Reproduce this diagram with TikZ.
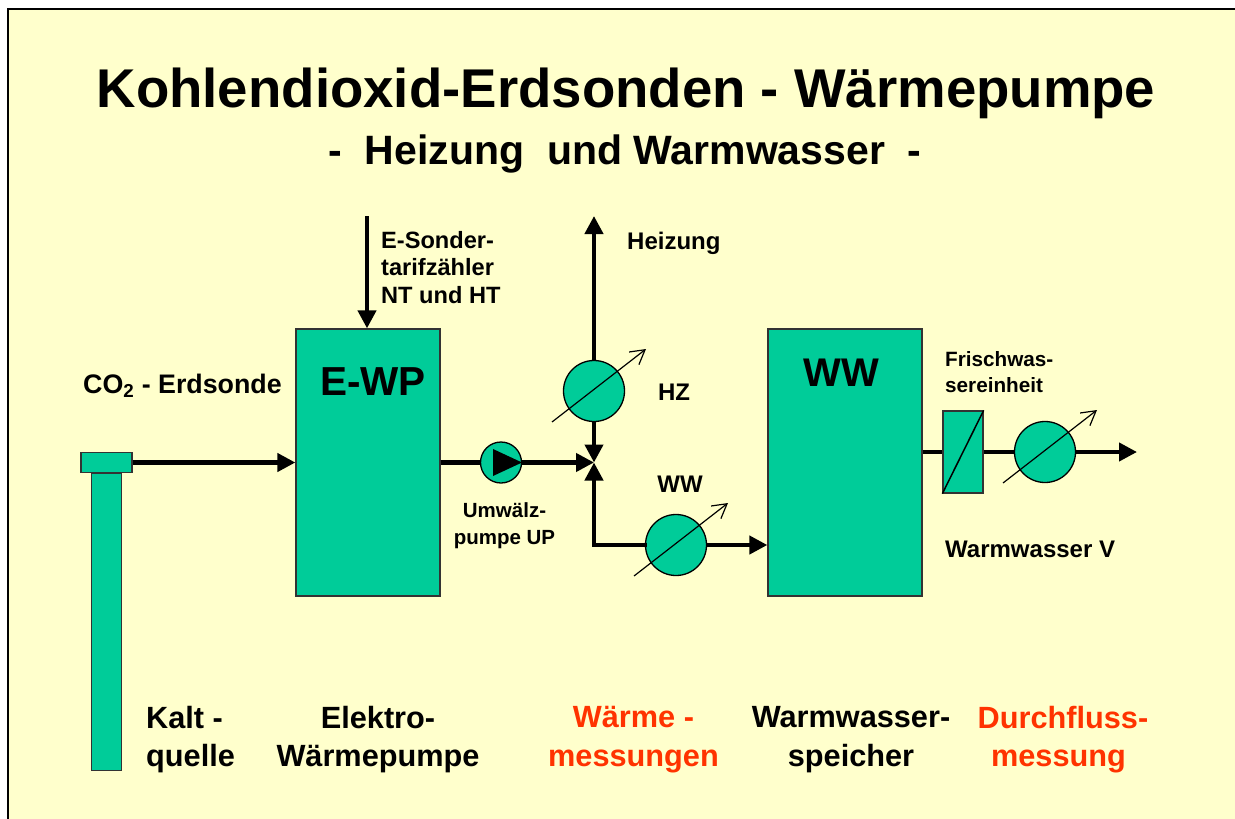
\documentclass[tikz,border=0pt]{standalone}
\usepackage{fontspec}
\setmainfont{Liberation Sans}
\usepackage{tikz}
\usetikzlibrary{calc}
\usetikzlibrary{arrows.meta}
\definecolor{wpgreen}{HTML}{00CC99}
\definecolor{wpyellow}{HTML}{FFFFCC}
\definecolor{wpred}{HTML}{FF3300}
\tikzset{
	block/.style={draw=black!80, line width=1.3pt, fill=wpgreen, rectangle, inner sep=0pt},
	meter/.style={draw=black, line width=1.3pt, fill=wpgreen, circle, inner sep=0pt, minimum size=61pt},
	pipe/.style={line width=4.2pt, black},
	flow/.style={pipe, -{Triangle[length=18pt,width=18pt]}, shorten >=0pt},
	dial/.style={line width=1.2pt, black, -{Straight Barb[length=14pt,width=16pt,line width=1.2pt]}},
	big/.style={font=\fontsize{30.7}{38.5}\selectfont\bfseries, align=center, inner sep=0pt},
	mid/.style={font=\fontsize{24}{27.5}\selectfont\bfseries, align=left, inner sep=0pt},
	small/.style={font=\fontsize{20.5}{27}\selectfont\bfseries, align=left, inner sep=0pt}
}
\begin{document}
\begin{tikzpicture}[x=1pt,y=-1pt]
			\useasboundingbox (0,0) rectangle (1235,819);
			\fill[white] (0,0) rectangle (1235,819);
			\fill[wpyellow, draw=black, line width=2pt] (8,9) -- (1240,9) -- (1240,825) -- (8,825) -- cycle;

			\node[inner sep=0pt, font=\fontsize{54.6}{60}\selectfont\bfseries] (title) at (626,93.5) {Kohlendioxid-Erdsonden - Wärmepumpe};
			\node[inner sep=0pt, font=\fontsize{41}{48}\selectfont\bfseries] (subtitle) at (625,154) {-\ \ Heizung\ \ und Warmwasser\ \ -};

			\node[block, minimum width=51pt, minimum height=20pt] (cap) at (106.5,462.5) {};
			\node[block, minimum width=30pt, minimum height=297.5pt, anchor=north] (sonde) at (106.5,472.5) {};
			\node[block, minimum width=144pt, minimum height=267pt] (EWP) at (368,462.5) {};
			\node[block, minimum width=154pt, minimum height=267pt] (WWS) at (845,462.5) {};
			\node[block, minimum width=40pt, minimum height=82pt] (FW) at (963,452) {};

			\node[meter] (HZ) at (594,391) {};
			\node[meter] (WZ) at (676,545) {};
			\node[meter] (DZ) at (1045,452) {};
			\node[meter, minimum size=41pt] (UP) at (501,462.5) {};

			\coordinate (junction) at (594,462.5);
			\coordinate (corner) at (594,545);
			\coordinate (heat) at (594,216);
			\coordinate (tarif) at (367,216);
			\coordinate (out) at (1137,452);

			%Beschriftung oben
			\node[font=\fontsize{40.5}{44}\selectfont\bfseries, inner sep=0pt] (lEWP) at (373,382) {E-WP};
			\node[font=\fontsize{40}{44}\selectfont\bfseries, inner sep=0pt] (lWWS) at (841,373) {WW};
			\node[mid, anchor=west, font=\fontsize{26.8}{30}\selectfont\bfseries] (lco2) at (83,386) {CO\textsubscript{2} - Erdsonde};
			\node[mid, anchor=north west, font=\fontsize{23.6}{27.5}\selectfont\bfseries] (ltarif) at (381,231) {E-Sonder-\\tarifzähler\\NT und HT};
			\node[mid, anchor=west] (lheat) at (627,243) {Heizung};
			\node[mid, anchor=center] (lHZ) at (674,392) {HZ};
			\node[mid, anchor=center] (lWZ) at (680,484) {WW};
			\node[small, align=center] (lUP) at (504.5,526) {Umwälz-\\pumpe UP};
			\node[small, anchor=west, font=\fontsize{20.7}{26}\selectfont\bfseries] (lFW) at (945,372) {Frischwas-\\sereinheit};
			\node[mid, anchor=west] (lV) at (945,549) {Warmwasser V};

			%Beschriftung unten
			\node[big, align=left, anchor=west] (kalt) at (146,739.5) {Kalt -\\quelle};
			\node[big] (elektro) at (378,739.5) {Elektro-\\Wärmepumpe};
			\node[big, text=wpred] (mess) at (633.5,739.5) {Wärme -\\messungen};
			\node[big] (speicher) at (851,739.5) {Warmwasser-\\speicher};
			\node[big, text=wpred] (durch) at (1063,739.5) {Durchfluss-\\messung\rule{9pt}{0pt}};

			\draw[flow] (cap.east) -- (EWP.west);
			\draw[flow] (tarif) -- (EWP.north -| tarif);
			\draw[pipe] (EWP.east) -- (UP.west);
			\draw[flow] (UP.east) -- (junction);
			\draw[flow] (HZ.north) -- (heat);
			\draw[flow] (HZ.south) -- (junction);
			\draw[flow] (corner) -- (junction);
			\draw[pipe, line cap=rect] (corner) -- (WZ.west);
			\draw[flow] (WZ.east) -- (WWS.west |- WZ);
			\draw[pipe] (WWS.east |- FW) -- (FW.west);
			\draw[pipe] (FW.east) -- (DZ.west);
			\draw[flow] (DZ.east) -- (out);

			\draw[line width=1.5pt] (FW.south west) -- (FW.north east);
			\fill[black] ($(UP)+(-8,-13.5)$) -- ($(UP)+(21,0)$) -- ($(UP)+(-8,13.5)$) -- cycle;

			\draw[dial] ($(HZ)+(-42,31)$) -- ($(HZ)+(52,-42)$);
			\draw[dial] ($(WZ)+(-42,31)$) -- ($(WZ)+(52,-42)$);
			\draw[dial] ($(DZ)+(-42,31)$) -- ($(DZ)+(52,-42)$);
\end{tikzpicture}
\end{document}
